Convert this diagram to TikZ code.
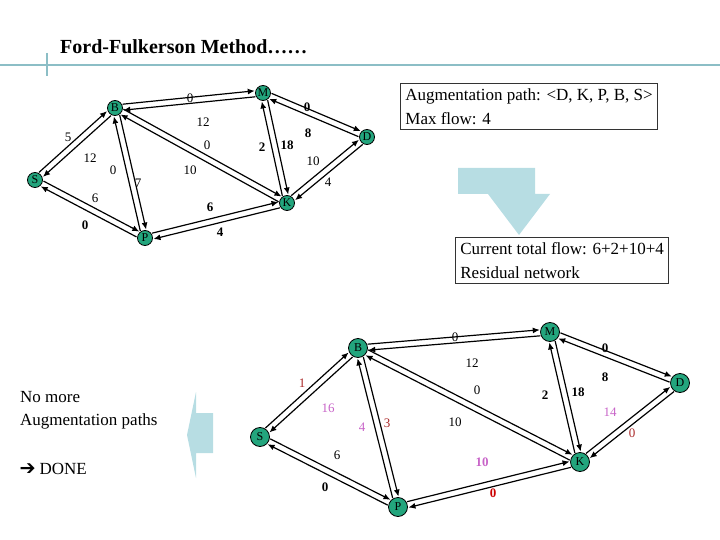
\documentclass[tikz,border=0pt]{standalone}
\usepackage{fontspec}
\setmainfont{Liberation Serif}
\usepackage{pifont}
\usetikzlibrary{calc,arrows.meta}
\definecolor{nodeg}{RGB}{35,165,125}
\definecolor{teal1}{RGB}{140,190,198}
\definecolor{lblue}{RGB}{183,221,227}
\definecolor{redl}{RGB}{170,40,40}
\definecolor{vio}{RGB}{200,100,200}
\tikzset{
  vtx/.style={circle,draw=black,fill=nodeg,line width=0.8pt,inner sep=0pt,minimum size=#1,font=\fontsize{12}{12}\selectfont},
  lbl/.style={font=\fontsize{13}{13}\selectfont,inner sep=0pt},
  blbl/.style={font=\fontsize{13}{13}\selectfont\bfseries,inner sep=0pt},
  earr/.style={line width=1.2pt,-{Latex[length=7pt,width=6pt]}},
  box/.style={draw=black!80,line width=0.8pt,align=left,font=\fontsize{17}{24}\selectfont,anchor=north west,inner sep=5pt}
}
\newcommand\twoway[3]{%
  \draw[earr,shorten <=#3,shorten >=#3] ($(#1)!3pt!90:(#2)$) -- ($(#2)!3pt!-90:(#1)$);
  \draw[earr,shorten <=#3,shorten >=#3] ($(#2)!3pt!90:(#1)$) -- ($(#1)!3pt!-90:(#2)$);}
\begin{document}
\begin{tikzpicture}[x=1pt,y=-1pt]
\useasboundingbox (0,0) rectangle (720,540);
% header
\node[anchor=base west,font=\fontsize{20}{20}\selectfont\bfseries,inner sep=0pt] (title) at (60,54) {Ford-Fulkerson Method……};
\draw[teal1,line width=2.5pt] (0,65) -- (720,65);
\draw[teal1,line width=1.5pt] (47,53) -- (47,76);
% top graph
\node[vtx=15pt] (tB) at (115,108) {B};
\node[vtx=15pt] (tM) at (263,93) {M};
\node[vtx=15pt] (tD) at (367,137) {D};
\node[vtx=15pt] (tS) at (35,180) {S};
\node[vtx=15pt] (tK) at (287,203) {K};
\node[vtx=15pt] (tP) at (145,238) {P};
\foreach \a/\b in {tS/tB,tS/tP,tB/tP,tB/tM,tB/tK,tM/tK,tM/tD,tK/tD,tP/tK}{\twoway{\a}{\b}{8pt}}
\node[lbl] (l1) at (190,98) {0};
\node[lbl] (l2) at (203,122) {12};
\node[blbl] (l3) at (307,107) {0};
\node[blbl] (l4) at (308,133) {8};
\node[lbl] (l5) at (68,137) {5};
\node[lbl] (l6) at (90,158) {12};
\node[lbl] (l7) at (207,145) {0};
\node[blbl] (l8) at (262,147) {2};
\node[blbl] (l9) at (287,145) {18};
\node[lbl] (l10) at (313,161) {10};
\node[lbl] (l11) at (113,170) {0};
\node[lbl] (l12) at (190,170) {10};
\node[lbl] (l13) at (138,183) {7};
\node[lbl] (l14) at (328,182) {4};
\node[lbl] (l15) at (95,198) {6};
\node[blbl] (l16) at (210,207) {6};
\node[blbl] (l17) at (85,225) {0};
\node[blbl] (l18) at (220,232) {4};
% boxes and arrows
\node[box] (box1) at (400,83) {Augmentation path: <D, K, P, B, S>\\Max flow: 4};
\node[box] (box2) at (455,237) {Current total flow: 6+2+10+4\\Residual network};
\fill[lblue] (458,168) -- (535,168) -- (535,194) -- (550,194) -- (519,235) -- (488,194) -- (458,194) -- cycle;
\fill[lblue] (213,413) -- (213,453) -- (196,453) -- (196,478) -- (187,435) -- (196,392) -- (196,413) -- cycle;
\node[anchor=west,align=left,font=\fontsize{17}{23}\selectfont,inner sep=0pt] (nomore) at (20,410) {No more\\Augmentation paths};
\node[anchor=west,font=\fontsize{17}{17}\selectfont,inner sep=0pt] (done) at (20,469) {\ding{212} DONE};
% bottom graph
\node[vtx=19pt] (bS) at (260,437) {S};
\node[vtx=19pt] (bB) at (358,348) {B};
\node[vtx=19pt] (bM) at (550,332) {M};
\node[vtx=19pt] (bD) at (680,383) {D};
\node[vtx=19pt] (bK) at (580,462) {K};
\node[vtx=19pt] (bP) at (398,507) {P};
\foreach \a/\b in {bS/bB,bS/bP,bB/bP,bB/bM,bB/bK,bM/bK,bM/bD,bK/bD,bP/bK}{\twoway{\a}{\b}{10pt}}
\node[lbl] (m1) at (455,337) {0};
\node[lbl] (m2) at (472,363) {12};
\node[blbl] (m3) at (605,348) {0};
\node[blbl] (m4) at (605,377) {8};
\node[lbl,text=redl] (m5) at (302,383) {1};
\node[lbl,text=vio] (m6) at (328,408) {16};
\node[lbl] (m7) at (477,390) {0};
\node[blbl] (m8) at (545,395) {2};
\node[blbl] (m9) at (578,392) {18};
\node[lbl,text=vio] (m10) at (610,412) {14};
\node[lbl,text=vio] (m11) at (362,427) {4};
\node[lbl,text=redl] (m12) at (387,423) {3};
\node[lbl] (m13) at (455,422) {10};
\node[lbl,text=redl] (m14) at (632,433) {0};
\node[lbl] (m15) at (337,455) {6};
\node[blbl,text=vio] (m16) at (482,462) {10};
\node[blbl] (m17) at (325,487) {0};
\node[blbl,text=red!80!black] (m18) at (493,493) {0};
\end{tikzpicture}
\end{document}
